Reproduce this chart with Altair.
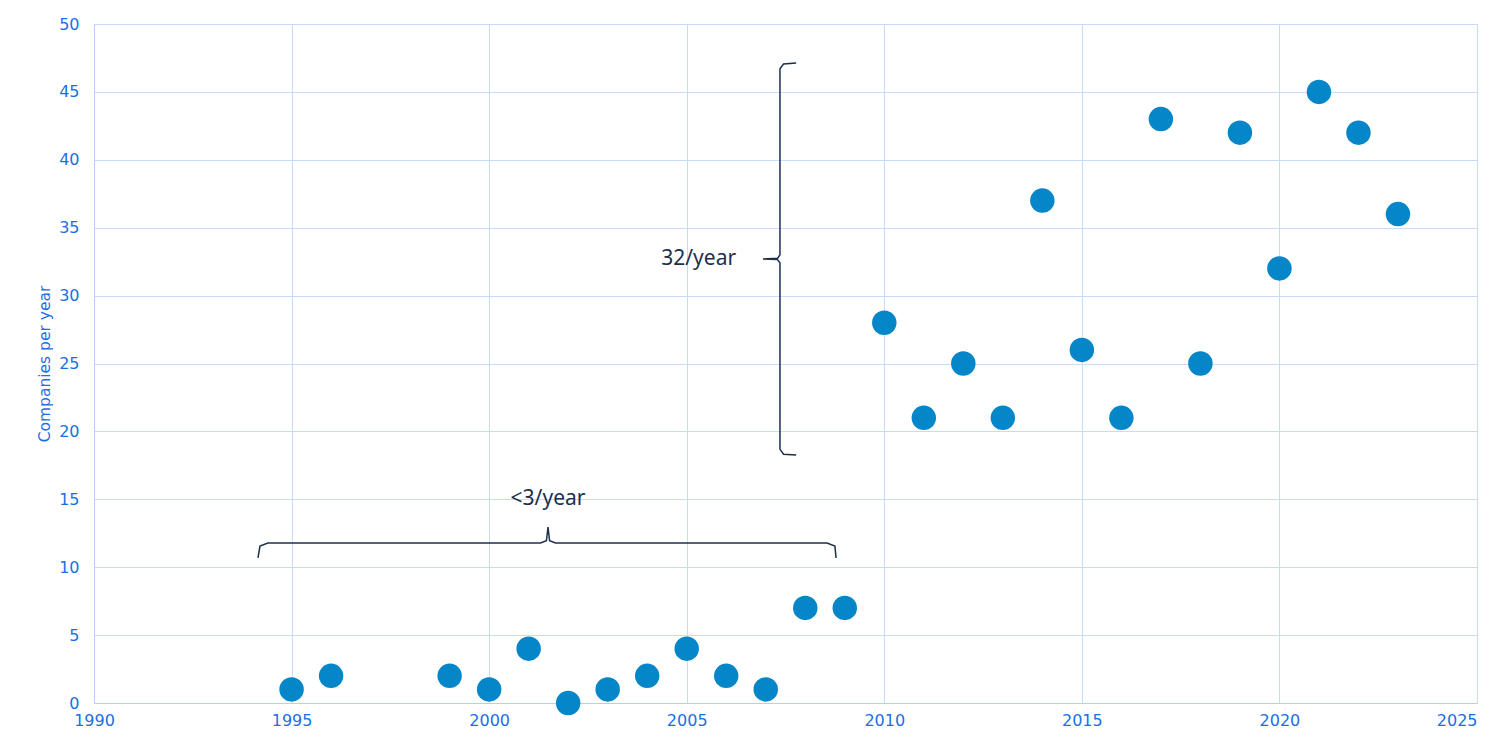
import altair as alt
import pandas as pd

years = [1995, 1996, 1999, 2000, 2001, 2002, 2003, 2004, 2005, 2006, 2007, 2008, 2009,
         2010, 2011, 2012, 2013, 2014, 2015, 2016, 2017, 2018, 2019, 2020, 2021, 2022, 2023]
companies = [1, 2, 2, 1, 4, 0, 1, 2, 4, 2, 1, 7, 7,
             28, 21, 25, 21, 37, 26, 21, 43, 25, 42, 32, 45, 42, 36]

# annotation braces (data units)
vbrace_x = [2007.77, 2007.45, 2007.36, 2007.36, 2007.30, 2006.93, 2007.30, 2007.36, 2007.36, 2007.45, 2007.77]
vbrace_y = [47.13, 47.05, 46.7, 33.0, 32.75, 32.7, 32.65, 32.4, 18.7, 18.32, 18.26]
hbrace_x = [1994.15, 1994.2, 1994.4, 2001.3, 2001.45, 2001.49, 2001.53, 2001.68, 2008.55, 2008.75, 2008.78]
hbrace_y = [10.68, 11.55, 11.78, 11.78, 11.95, 12.96, 11.95, 11.78, 11.78, 11.55, 10.68]

label_text = ["32/year", "<3/year"]
label_x = [2006.25, 2001.49]
label_y = [32.7, 15.0]

df = pd.DataFrame({"year": years, "companies": companies})
vb = pd.DataFrame({"x": vbrace_x, "y": vbrace_y, "o": list(range(len(vbrace_x)))})
hb = pd.DataFrame({"x": hbrace_x, "y": hbrace_y, "o": list(range(len(hbrace_x)))})

LABEL = "#1b6fe3"
GRID = "#c7dcf6"
NAVY = "#1c2f4f"

xs = alt.Scale(domain=[1990, 2025], nice=False, zero=False)
ys = alt.Scale(domain=[0, 50], nice=False)

points = alt.Chart(df).mark_circle(size=600, opacity=1, color="#0586c8").encode(
    x=alt.X("year:Q", scale=xs,
            axis=alt.Axis(title=None, values=list(range(1990, 2026, 5)), format="d",
                          grid=True, gridColor=GRID, domainColor="#b3d0f3", ticks=False,
                          labelColor=LABEL, labelFont="DejaVu Sans", labelFontSize=16,
                          labelFlush=False, labelPadding=9,
                          labelAlign={"condition": {"test": "datum.value >= 2025", "value": "right"},
                                      "value": "center"})),
    y=alt.Y("companies:Q", scale=ys,
            axis=alt.Axis(title="Companies per year", values=list(range(0, 51, 5)),
                          grid=True, gridColor=GRID, domainColor="#b3d0f3", ticks=False,
                          labelColor=LABEL, labelFont="DejaVu Sans", labelFontSize=16,
                          labelPadding=15, titleColor=LABEL, titleFont="DejaVu Sans",
                          titleFontSize=15.5, titleFontWeight="normal", titlePadding=6)),
)

vline = alt.Chart(vb).mark_line(color=NAVY, strokeWidth=1.5).encode(
    x=alt.X("x:Q", scale=xs), y=alt.Y("y:Q", scale=ys), order="o:Q")
hline = alt.Chart(hb).mark_line(color=NAVY, strokeWidth=1.5).encode(
    x=alt.X("x:Q", scale=xs), y=alt.Y("y:Q", scale=ys), order="o:Q")

lab1 = alt.Chart(pd.DataFrame({"t": [label_text[0]], "x": [label_x[0]], "y": [label_y[0]]})).mark_text(
    align="right", baseline="middle", fontSize=21, font="Noto Sans", color=NAVY).encode(
    x=alt.X("x:Q", scale=xs), y=alt.Y("y:Q", scale=ys), text="t:N")
lab2 = alt.Chart(pd.DataFrame({"t": [label_text[1]], "x": [label_x[1]], "y": [label_y[1]]})).mark_text(
    align="center", baseline="middle", fontSize=21, font="Noto Sans", color=NAVY).encode(
    x=alt.X("x:Q", scale=xs), y=alt.Y("y:Q", scale=ys), text="t:N")

chart = alt.layer(vline, hline, points, lab1, lab2).properties(
    width=1383, height=679,
    autosize=alt.AutoSizeParams(type="none"),
    padding={"left": 86, "top": 16, "right": 7, "bottom": 26},
).configure_view(stroke=None).configure(background="white")

chart.save("out.html", embed_options={"renderer": "svg", "actions": False})
